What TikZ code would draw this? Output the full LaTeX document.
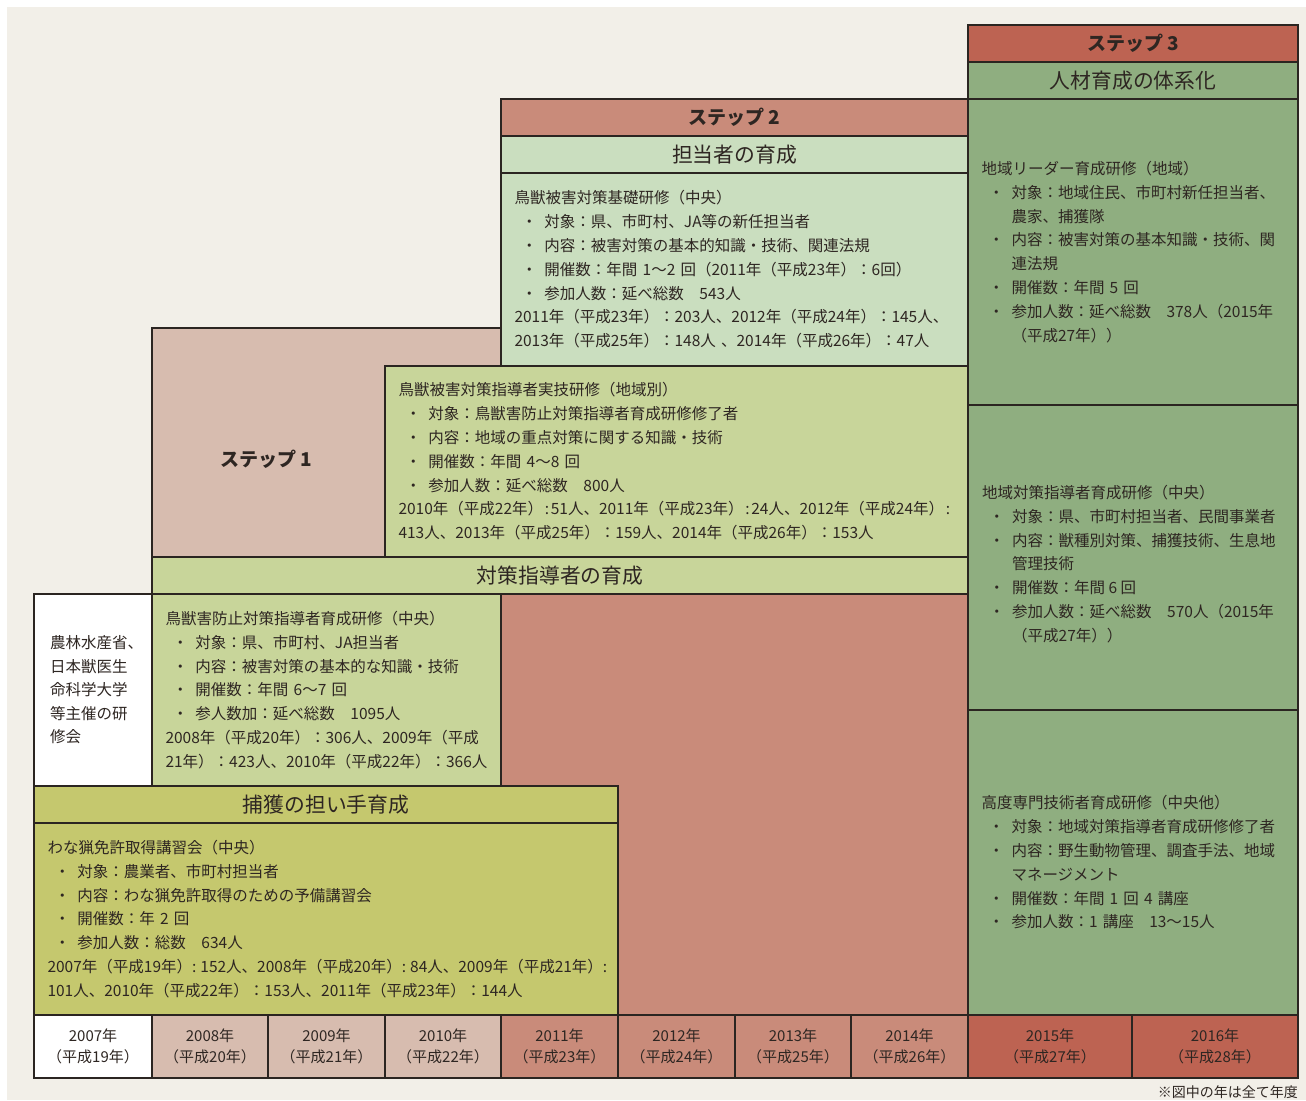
\documentclass[tikz,border=0pt]{standalone}
\usepackage{fontspec}
\setmainfont{Noto Sans CJK JP}
\definecolor{bgc}{HTML}{F2EFE8}
\definecolor{edge}{HTML}{2B2521}
\definecolor{txt}{HTML}{2E2622}
\definecolor{sone}{HTML}{D7BCAF}
\definecolor{stwo}{HTML}{C98B7A}
\definecolor{sthree}{HTML}{BD6352}
\definecolor{mint}{HTML}{CADEBF}
\definecolor{ygreen}{HTML}{C8D59A}
\definecolor{olive}{HTML}{C5C86E}
\definecolor{gthree}{HTML}{8FAE80}
\newcommand\bu{\makebox[30pt][l]{\hspace*{7pt}・}}
\newcommand\ind{\hspace*{30pt}}
\newcommand\jc{\kern1.7pt:\kern1.7pt}
\newcommand\wc{:\kern4pt}
\begin{document}
\begin{tikzpicture}[x=1pt,y=-1pt,
  cell/.style={draw=edge,line width=2.4pt,anchor=north west,inner sep=0pt,outer sep=0pt,text=txt},
  bodyfont/.style={font={\fontsize{15.5}{23.8}\selectfont}},
  body/.style={cell,align=left,inner xsep=13.5pt,bodyfont},
  head/.style={cell,align=center,font={\fontsize{20.8}{24}\selectfont}},
  stephead/.style={cell,align=center,font={\fontsize{19}{24}\selectfont\bfseries}},
  yearcell/.style={cell,align=center,minimum height=63pt,font={\fontsize{15}{21}\selectfont}}]
\useasboundingbox (0,0) rectangle (1306,1100);
\fill[white] (0,0) rectangle (1306,1100);
\fill[bgc] (7,7) rectangle (1306,1100);

% Step 3
\node[stephead,fill=sthree,minimum width=330pt,minimum height=37pt] (s3head) at (968,25) {ステップ 3};
\node[head,fill=gthree,minimum width=330pt,minimum height=37pt] (s3sub) at (968,62) {人材育成の体系化};
\node[body,fill=gthree,minimum width=330pt,minimum height=306pt,text width=303pt] (s3a) at (968,99) {%
地域リーダー育成研修（地域）\\
\bu 対象：地域住民、市町村新任担当者、\\
\ind 農家、捕獲隊\\
\bu 内容：被害対策の基本知識・技術、関\\
\ind 連法規\\
\bu 開催数：年間 5 回\\
\bu 参加人数：延べ総数　378人（2015年\\
\ind （平成27年））};
\node[cell,fill=gthree,minimum width=330pt,minimum height=305pt] (s3b) at (968,405) {};
\node[anchor=west,align=left,inner sep=0pt,text=txt,bodyfont] (s3btext) at (982,564) {%
地域対策指導者育成研修（中央）\\
\bu 対象：県、市町村担当者、民間事業者\\
\bu 内容：獣種別対策、捕獲技術、生息地\\
\ind 管理技術\\
\bu 開催数：年間 6 回\\
\bu 参加人数：延べ総数　570人（2015年\\
\ind （平成27年））};
\node[body,fill=gthree,minimum width=330pt,minimum height=305pt,text width=303pt] (s3c) at (968,710) {%
高度専門技術者育成研修（中央他）\\
\bu 対象：地域対策指導者育成研修修了者\\
\bu 内容：野生動物管理、調査手法、地域\\
\ind マネージメント\\
\bu 開催数：年間 1 回 4 講座\\
\bu 参加人数：1 講座　13～15人};

% Step 2
\node[stephead,fill=stwo,minimum width=467pt,minimum height=37pt] (s2head) at (501,99) {ステップ 2};
\node[head,fill=mint,minimum width=467pt,minimum height=37pt] (s2sub) at (501,136) {担当者の育成};
\node[body,fill=mint,minimum width=467pt,minimum height=193pt,text width=440pt] (s2a) at (501,173) {%
鳥獣被害対策基礎研修（中央）\\
\bu 対象：県、市町村、JA等の新任担当者\\
\bu 内容：被害対策の基本的知識・技術、関連法規\\
\bu 開催数：年間 1～2 回（2011年（平成23年）：6回）\\
\bu 参加人数：延べ総数　543人\\
2011年（平成23年）：203人、2012年（平成24年）：145人、\\
2013年（平成25年）：148人 、2014年（平成26年）：47人};

% Step 1
\node[cell,fill=sone,minimum width=349pt,minimum height=229pt] (s1) at (152,328) {};
\node[text=txt,font={\fontsize{19}{24}\selectfont\bfseries}] (s1label) at (266,459) {ステップ 1};

% salmon area
\node[cell,fill=stwo,minimum width=467pt,minimum height=421pt] (salmon) at (501,594) {};

\node[body,fill=ygreen,minimum width=583pt,minimum height=191pt,text width=556pt] (jitsugi) at (385,366) {%
鳥獣被害対策指導者実技研修（地域別）\\
\bu 対象：鳥獣害防止対策指導者育成研修修了者\\
\bu 内容：地域の重点対策に関する知識・技術\\
\bu 開催数：年間 4～8 回\\
\bu 参加人数：延べ総数　800人\\
\mbox{2010年（平成22年）\jc 51人、2011年（平成23年）\jc 24人、2012年（平成24年）\jc}\\
413人、2013年（平成25年）：159人、2014年（平成26年）：153人};
\node[head,fill=ygreen,minimum width=816pt,minimum height=37pt] (taisaku) at (152,557) {対策指導者の育成};

\node[cell,fill=white,minimum width=118pt,minimum height=192pt] (org) at (34,594) {};
\node[anchor=west,align=left,inner sep=0pt,text=txt,font={\fontsize{15.5}{23.5}\selectfont}] (orgtext) at (50,690) {%
農林水産省、\\日本獣医生\\命科学大学\\等主催の研\\修会};
\node[body,fill=ygreen,minimum width=349pt,minimum height=192pt,text width=322pt] (boujo) at (152,594) {%
鳥獣害防止対策指導者育成研修（中央）\\
\bu 対象：県、市町村、JA担当者\\
\bu 内容：被害対策の基本的な知識・技術\\
\bu 開催数：年間 6～7 回\\
\bu 参人数加：延べ総数　1095人\\
2008年（平成20年）：306人、2009年（平成\\
21年）：423人、2010年（平成22年）：366人};

\node[head,fill=olive,minimum width=584pt,minimum height=37pt] (hokaku) at (34,786) {捕獲の担い手育成};
\node[body,fill=olive,minimum width=584pt,minimum height=192pt,text width=557pt] (wana) at (34,823) {%
わな猟免許取得講習会（中央）\\
\bu 対象：農業者、市町村担当者\\
\bu 内容：わな猟免許取得のための予備講習会\\
\bu 開催数：年 2 回\\
\bu 参加人数：総数　634人\\
\mbox{2007年（平成19年）\wc 152人、2008年（平成20年）\wc 84人、2009年（平成21年）\wc}\\
101人、2010年（平成22年）：153人、2011年（平成23年）：144人};

% years
\node[yearcell,fill=white,minimum width=118pt] (y2007) at (34,1015) {2007年\\（平成19年）};
\node[yearcell,fill=sone,minimum width=116pt] (y2008) at (152,1015) {2008年\\（平成20年）};
\node[yearcell,fill=sone,minimum width=117pt] (y2009) at (268,1015) {2009年\\（平成21年）};
\node[yearcell,fill=sone,minimum width=116pt] (y2010) at (385,1015) {2010年\\（平成22年）};
\node[yearcell,fill=stwo,minimum width=117pt] (y2011) at (501,1015) {2011年\\（平成23年）};
\node[yearcell,fill=stwo,minimum width=117pt] (y2012) at (618,1015) {2012年\\（平成24年）};
\node[yearcell,fill=stwo,minimum width=116pt] (y2013) at (735,1015) {2013年\\（平成25年）};
\node[yearcell,fill=stwo,minimum width=117pt] (y2014) at (851,1015) {2014年\\（平成26年）};
\node[yearcell,fill=sthree,minimum width=164pt] (y2015) at (968,1015) {2015年\\（平成27年）};
\node[yearcell,fill=sthree,minimum width=166pt] (y2016) at (1132,1015) {2016年\\（平成28年）};

\node[anchor=east,inner sep=0pt,text=txt,font={\fontsize{14}{16}\selectfont}] (note) at (1298,1092) {※図中の年は全て年度};
\end{tikzpicture}
\end{document}
